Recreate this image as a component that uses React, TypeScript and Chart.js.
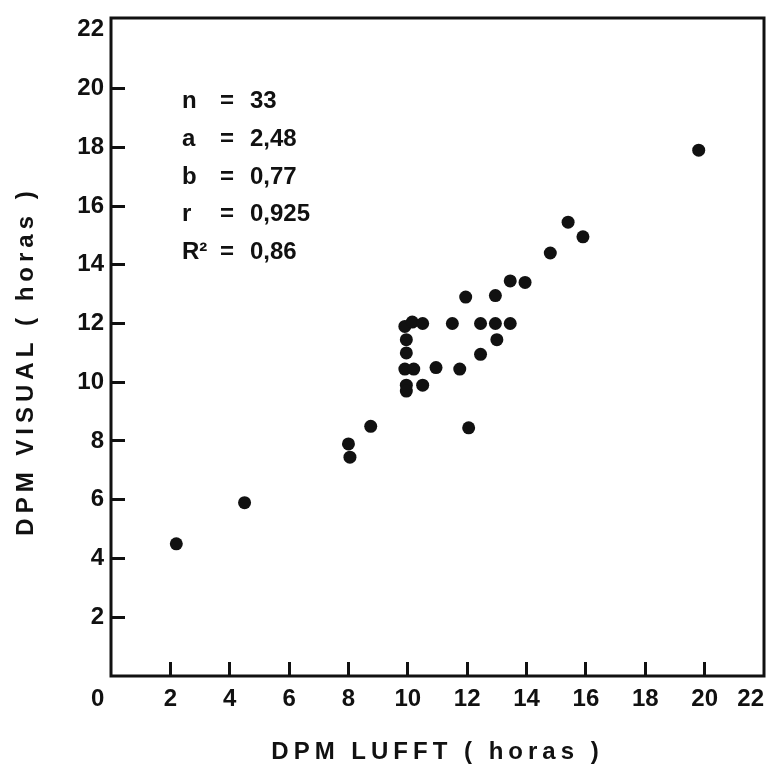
import React, { useEffect, useRef } from 'react';
import { Chart, registerables } from 'chart.js';

Chart.register(...registerables);

// DPM LUFFT (horas) vs DPM VISUAL (horas)
const xLufft = [2.2, 4.5, 8.0, 8.05, 8.75, 9.9, 10.15, 10.5, 11.5, 12.45, 12.95, 13.45, 9.95, 13.0, 9.95, 12.45, 9.9, 10.2, 10.95, 11.75, 9.95, 9.95, 10.5, 12.05, 11.95, 12.95, 13.45, 13.95, 14.8, 15.4, 15.9, 19.8];
const yVisual = [4.5, 5.9, 7.9, 7.45, 8.5, 11.9, 12.05, 12.0, 12.0, 12.0, 12.0, 12.0, 11.45, 11.45, 11.0, 10.95, 10.45, 10.45, 10.5, 10.45, 9.9, 9.7, 9.9, 8.45, 12.9, 12.95, 13.45, 13.4, 14.4, 15.45, 14.95, 17.9];

const xTicks = [0, 2, 4, 6, 8, 10, 12, 14, 16, 18, 20, 22];
const yTicks = [2, 4, 6, 8, 10, 12, 14, 16, 18, 20, 22];

const statLabels = ['n', 'a', 'b', 'r', 'R²'];
const statValues = ['33', '2,48', '0,77', '0,925', '0,86'];

const xTitle = 'DPM LUFFT ( horas )';
const yTitle = 'DPM VISUAL ( horas )';

const FONT = '"Liberation Sans", Arial, sans-serif';
const INK = '#111';

const isEnd = (v: number) => v === 0 || v === 22;

const tickColor = (ctx: any) => (ctx.tick && isEnd(ctx.tick.value) ? 'rgba(0,0,0,0)' : INK);

const overlay = {
  id: 'overlay',
  afterDraw(chart: any) {
    const { ctx, chartArea: a } = chart;
    ctx.save();
    // frame
    ctx.strokeStyle = INK;
    ctx.lineWidth = 3;
    ctx.strokeRect(a.left, a.top, a.right - a.left, a.bottom - a.top);

    // statistics block
    ctx.fillStyle = INK;
    ctx.font = `bold 24px ${FONT}`;
    ctx.textBaseline = 'alphabetic';
    statLabels.forEach((lab, i) => {
      const by = a.top + 90 + i * 37.8;
      ctx.textAlign = 'left';
      ctx.fillText(lab, a.left + 71, by);
      ctx.textAlign = 'center';
      ctx.fillText('=', a.left + 116, by);
      ctx.textAlign = 'left';
      ctx.fillText(statValues[i], a.left + 139, by);
    });

    // axis titles
    (ctx as any).letterSpacing = '5px';
    ctx.font = `bold 24px ${FONT}`;
    ctx.textAlign = 'center';
    ctx.textBaseline = 'middle';
    ctx.fillText(xTitle, (a.left + a.right) / 2, 752);
    ctx.translate(26, (a.top + a.bottom) / 2 + 14);
    ctx.rotate(-Math.PI / 2);
    ctx.fillText(yTitle, 0, 0);
    ctx.restore();
  },
};

export default function App() {
  const ref = useRef<HTMLCanvasElement | null>(null);

  useEffect(() => {
    document.body.style.margin = '0';
    const canvas = ref.current;
    if (!canvas) return;
    const tickFont = { family: FONT, size: 24, weight: 'bold' as const };
    const chart = new Chart(canvas, {
      type: 'scatter',
      data: {
        datasets: [
          {
            data: xLufft.map((x, i) => ({ x, y: yVisual[i] })),
            backgroundColor: INK,
            borderWidth: 0,
            pointRadius: 6.5,
            pointHoverRadius: 6.5,
          },
        ],
      },
      options: {
        responsive: false,
        animation: false,
        events: [],
        layout: { padding: { left: 0, right: 17, top: 18, bottom: 0 } },
        plugins: { legend: { display: false }, tooltip: { enabled: false } },
        scales: {
          x: {
            type: 'linear',
            min: 0,
            max: 22,
            afterBuildTicks: (s: any) => {
              s.ticks = xTicks.map((v) => ({ value: v }));
            },
            afterFit: (s: any) => {
              s.height = 768 - 676;
              s.paddingLeft = 0;
              s.paddingRight = 0;
            },
            border: { display: false },
            grid: {
              drawOnChartArea: false,
              drawTicks: true,
              tickLength: -14,
              tickWidth: 3,
              tickColor,
            },
            ticks: {
              font: tickFont,
              color: INK,
              padding: 23,
              maxRotation: 0,
              autoSkip: false,
              // end labels sit a little left of their positions, as in the original lettering
              callback: (v: any) => (isEnd(Number(v)) ? `${v}    ` : `${v}`),
            },
          },
          y: {
            type: 'linear',
            min: 0,
            max: 22.4,
            afterBuildTicks: (s: any) => {
              s.ticks = yTicks.map((v) => ({ value: v }));
            },
            afterFit: (s: any) => {
              s.width = 111;
              s.paddingTop = 0;
              s.paddingBottom = 0;
            },
            border: { display: false },
            grid: {
              drawOnChartArea: false,
              drawTicks: true,
              tickLength: -14,
              tickWidth: 3,
              tickColor,
            },
            ticks: {
              font: tickFont,
              color: INK,
              padding: 21,
              autoSkip: false,
            },
          },
        },
      },
      plugins: [overlay],
    });
    return () => chart.destroy();
  }, []);

  return (
    <div style={{ width: 781, height: 768, background: '#fff' }}>
      <canvas ref={ref} width={781} height={768} style={{ display: 'block' }} />
    </div>
  );
}
